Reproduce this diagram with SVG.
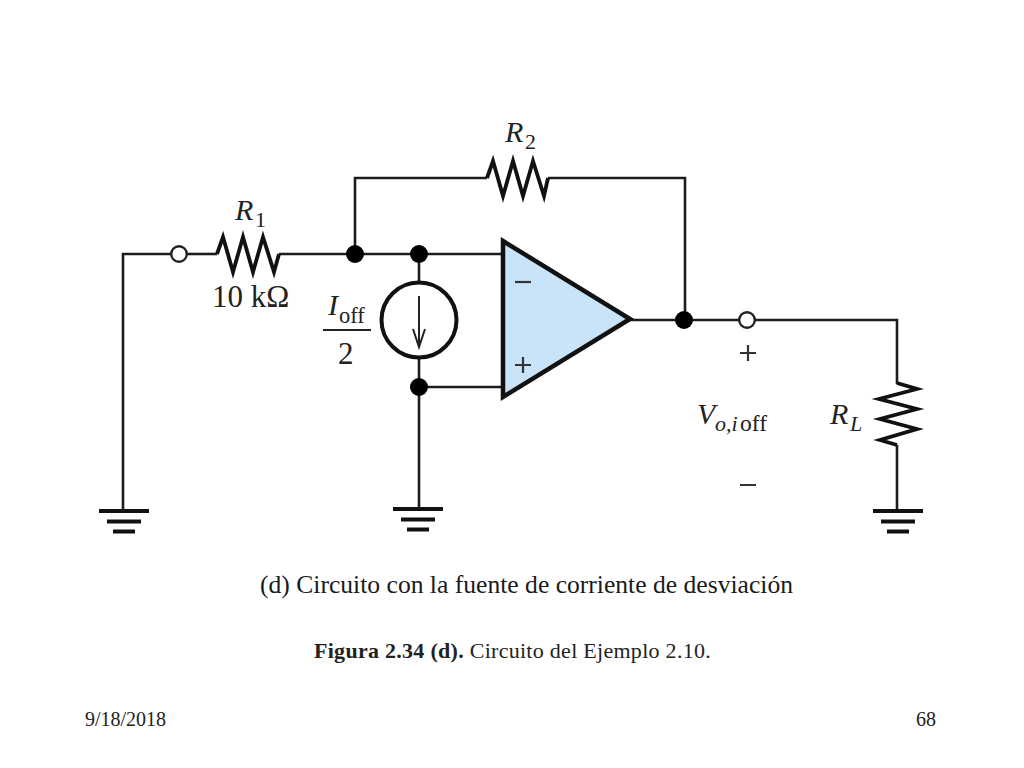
<svg xmlns="http://www.w3.org/2000/svg" width="1024" height="768" viewBox="0 0 1024 768">
<style>
.w{fill:none;stroke:#1c1c1c;stroke-width:2.6;stroke-linejoin:miter}
.r{fill:none;stroke:#111;stroke-width:3.8;stroke-linejoin:miter}
.g{stroke:#111;stroke-width:4;fill:none}
.d{fill:#000}
.o{fill:#fff;stroke:#222;stroke-width:2.4}
text{font-family:"Liberation Serif",serif;fill:#222}
.l{font-size:31px}
.n{font-size:30px}
.i{font-style:italic}
.s{font-size:22px}
.c{font-size:25.600px;fill:#1a1a1a}
.f{font-size:22px;letter-spacing:.28px;fill:#222}
.t{font-size:20px;fill:#222}
</style>
<defs>
<g id="gnd"><path class="g" d="M-25 0H25M-17 10.500H17M-11 20.500H11"/></g>
</defs>
<rect width="1024" height="768" fill="#fff"/>
<g id="connectors">
<path class="w" d="M123 511V254H171"/>
<path class="w" d="M186 254H217"/>
<path class="w" d="M279 254H502"/>
<path class="w" d="M355 254V178H487"/>
<path class="w" d="M548 178H685V320"/>
<path class="w" d="M419 254V282"/>
<path class="w" d="M419 358V509"/>
<path class="w" d="M419 387H502"/>
<path class="w" d="M630 320H740"/>
<path class="w" d="M755 320H897V384"/>
<path class="w" d="M897 445V511"/>
</g>
<g id="R1"><path class="r" d="M217 254L223 237L233 272L243 237L253 272L263 237L274 272L279 254"/>
<text class="n i" x="235" y="220">R</text><text class="s" x="255" y="227">1</text>
<text class="l" x="212" y="307">10 kΩ</text></g>
<g id="R2"><path class="r" d="M487 178L493 161L503 196L513 161L523 196L533 161L544 196L548 178"/>
<text class="n i" x="505" y="142">R</text><text class="s" x="525" y="149">2</text></g>
<g id="RL"><path class="r" d="M897 383L917 389L879 399L917 409L880 419L917 429L880 440L897 445"/>
<text class="n i" x="830" y="424">R</text><text class="s i" x="850" y="431">L</text></g>
<g id="source"><circle cx="419" cy="320" r="37.500" fill="#fff" stroke="#111" stroke-width="4"/>
<path d="M419 296V347M413 329L419 347L425 329" fill="none" stroke="#222" stroke-width="2"/>
<text class="n i" x="328" y="315">I</text><text x="339" y="323" style="font-size:22.500px">off</text>
<path d="M323 330H371" stroke="#222" stroke-width="2"/>
<text class="l" x="338" y="364">2</text></g>
<g id="opamp"><path d="M503 241L630 319L503 397Z" fill="#c9e3f8" stroke="#111" stroke-width="4.500"/>
<path d="M515 282H531" stroke="#333" stroke-width="2.200"/>
<path d="M515 365H531M523 357V373" stroke="#333" stroke-width="2.200"/></g>
<g id="junctions">
<circle class="d" cx="355" cy="254" r="9"/><circle class="d" cx="419" cy="254" r="9"/><circle class="d" cx="419" cy="387" r="9"/><circle class="d" cx="684" cy="320" r="9"/>
<circle class="o" cx="179" cy="254" r="7.800"/><circle class="o" cx="747" cy="320" r="7.800"/>
</g>
<g id="grounds"><use href="#gnd" x="124" y="511"/><use href="#gnd" x="418" y="509"/><use href="#gnd" x="898" y="511"/></g>
<g id="output"><path d="M740 353H756M748 345V361M740 485H756" stroke="#333" stroke-width="2.200"/>
<text class="n i" x="697" y="424">V</text><text class="i" x="715" y="431" style="font-size:22px">o,i</text><text x="740" y="431" style="font-size:23.500px">off</text></g>
<g id="captions">
<text class="c" x="260" y="593">(d) Circuito con la fuente de corriente de desviación</text>
<text class="f" x="314" y="658"><tspan font-weight="bold">Figura 2.34 (d).</tspan> Circuito del Ejemplo 2.10.</text>
<text class="t" x="85" y="726">9/18/2018</text>
<text class="t" x="916" y="726">68</text>
</g>
</svg>
